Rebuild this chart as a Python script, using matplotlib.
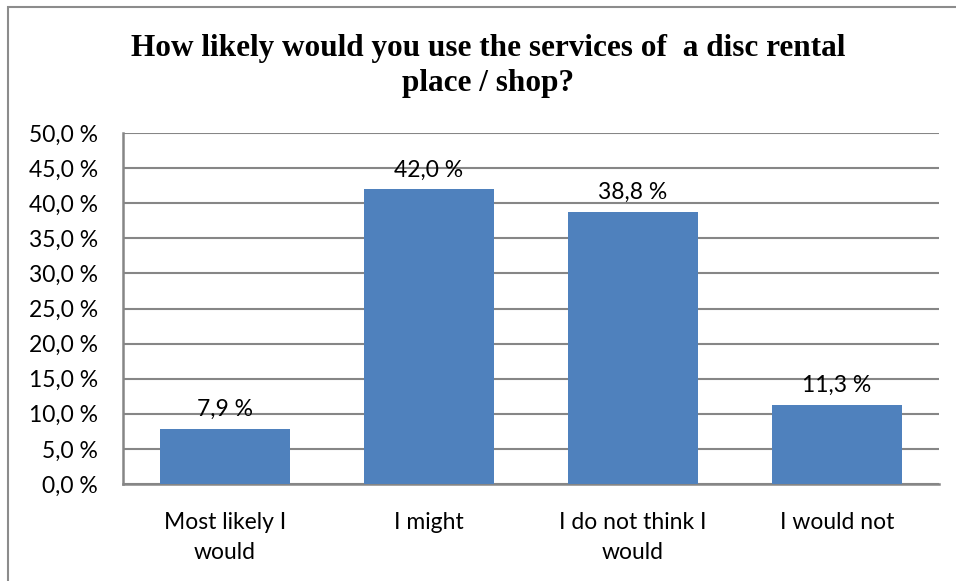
import matplotlib.pyplot as plt
from matplotlib.patches import Rectangle
from matplotlib.ticker import FuncFormatter

categories = ["Most likely I\nwould", "I might", "I do not think I\nwould", "I would not"]
shares = [7.9, 42.0, 38.8, 11.3]
y_ticks = [0, 5, 10, 15, 20, 25, 30, 35, 40, 45, 50]

bar_color = "#4F81BD"
grid_color = "#868686"


def pct(v, _pos=None):
    return f"{v:.1f} %".replace(".", ",")


fig = plt.figure(figsize=(9.56, 5.81), dpi=100)
ax = fig.add_axes([123 / 956, 1 - 484 / 581, (939 - 123) / 956, (484 - 133) / 581])

# outer chart frame (only left/top edges fall inside the image)
fig.patches.append(Rectangle((8 / 956, -0.1), 1.2, (581 - 7) / 581 + 0.1,
                             transform=fig.transFigure, fill=False,
                             edgecolor="#8c8c8c", linewidth=1.5))

x = range(len(categories))
ax.bar(x, shares, width=0.64, color=bar_color, zorder=3)

for xi, v in zip(x, shares):
    ax.text(xi, v + 1.2, pct(v), ha="center", va="bottom",
            fontsize=16.5, family="Lato", color="#000000", zorder=4)

ax.set_xlim(-0.5, len(categories) - 0.5)
ax.set_ylim(0, 50)
ax.set_yticks(y_ticks)
ax.yaxis.set_major_formatter(FuncFormatter(pct))
ax.set_xticks(list(x))
ax.set_xticklabels(categories, fontsize=16.5, family="Lato", linespacing=1.55)
for lab in ax.get_yticklabels():
    lab.set_fontsize(16.5)
    lab.set_family("Lato")

ax.grid(axis="y", color=grid_color, linewidth=1.5, zorder=0)
ax.tick_params(axis="y", length=0, pad=18)
ax.tick_params(axis="x", length=0, pad=20)
for side in ["top", "right"]:
    ax.spines[side].set_visible(False)
for side in ["left", "bottom"]:
    ax.spines[side].set_color(grid_color)
    ax.spines[side].set_linewidth(1.8)

fig.text(488 / 956, 1 - 66 / 581,
         "How likely would you use the services of  a disc rental\nplace / shop?",
         ha="center", va="center", fontsize=22.5, fontweight="bold",
         family="Liberation Serif", linespacing=1.3)

fig.savefig("out.png", dpi=100)
